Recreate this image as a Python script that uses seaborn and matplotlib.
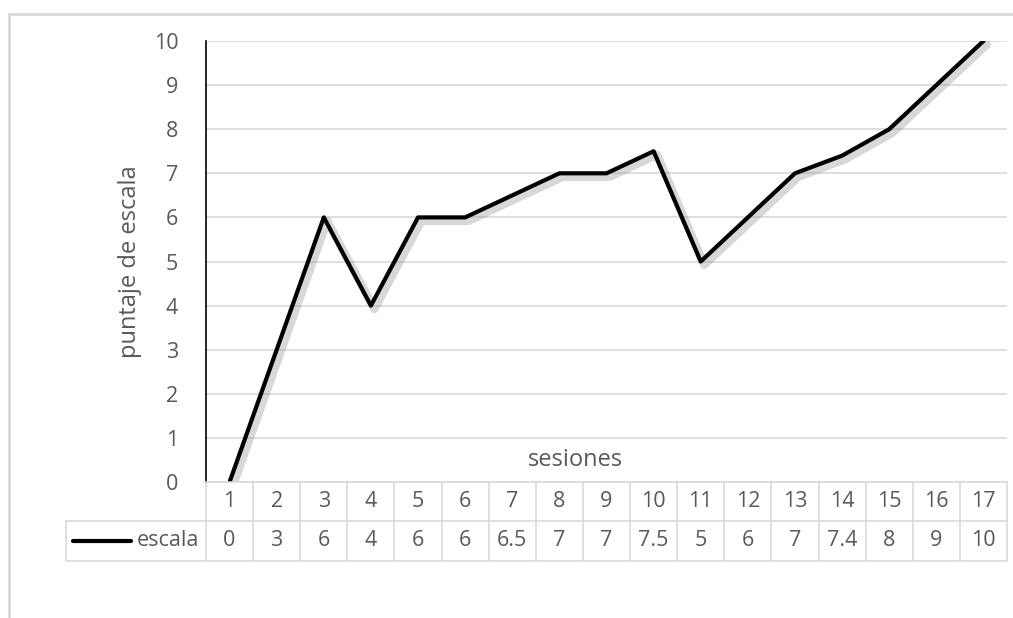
import matplotlib
matplotlib.use("Agg")
import matplotlib.pyplot as plt
import matplotlib.patheffects as pe
from matplotlib.transforms import blended_transform_factory
from matplotlib.lines import Line2D
import seaborn as sns
import pandas as pd

sesiones = list(range(1, 18))
escala = [0, 3, 6, 4, 6, 6, 6.5, 7, 7, 7.5, 5, 6, 7, 7.4, 8, 9, 10]
value_labels = ["0", "3", "6", "4", "6", "6", "6.5", "7", "7", "7.5",
                "5", "6", "7", "7.4", "8", "9", "10"]

sns.set_theme(style="white")
plt.rcParams["font.family"] = ["Open Sans", "DejaVu Sans"]

TXT = "#595959"
GRID = "#d9d9d9"
FS = 15.5

W, H = 1013, 618
fig = plt.figure(figsize=(W / 100, H / 100), dpi=100)
fig.patch.set_facecolor("white")

# plot area in pixels
L, R, T, B = 206, 1007, 41, 482
ax = fig.add_axes([L / W, 1 - B / H, (R - L) / W, (B - T) / H])

df = pd.DataFrame({"pos": range(len(sesiones)), "escala": escala})
sns.lineplot(data=df, x="pos", y="escala", ax=ax, color="black", linewidth=3,
             path_effects=[pe.SimpleLineShadow(offset=(2.5, -2.5), shadow_color="gray",
                                               alpha=0.3, linewidth=6),
                           pe.Normal()])

n = len(sesiones)
ax.set_xlim(-0.5, n - 0.5)
ax.set_ylim(0, 10)
ax.set_yticks(range(0, 11))
ax.set_xticks([])
ax.set_xlabel("")
ax.set_ylabel("puntaje de escala", fontsize=17, color=TXT, labelpad=8)
ax.tick_params(axis="y", labelsize=FS, labelcolor=TXT, length=0, pad=20)
ax.yaxis.grid(True, color=GRID, linewidth=1.2)
for s in ["top", "right"]:
    ax.spines[s].set_visible(False)
ax.spines["left"].set_color("black")
ax.spines["left"].set_linewidth(1.2)
ax.spines["bottom"].set_color(GRID)
ax.spines["bottom"].set_linewidth(1.2)

cell_px = (R - L) / n
ax.text((575 - L) / cell_px - 0.5, 0.5, "sesiones", ha="center", va="center",
        fontsize=17, color=TXT)

# data table below the plot area
trans = blended_transform_factory(ax.transData, ax.transAxes)
hpx = B - T
def yax(py):
    return (B - py) / hpx

row1_bot, row2_bot = 521, 561
left_data = -0.5 - (L - 66) / cell_px
kw = dict(transform=trans, clip_on=False, color=GRID, linewidth=1.2)

ax.add_line(Line2D([left_data, n - 0.5], [yax(row1_bot)] * 2, **kw))
ax.add_line(Line2D([left_data, n - 0.5], [yax(row2_bot)] * 2, **kw))
ax.add_line(Line2D([left_data, left_data], [yax(row1_bot), yax(row2_bot)], **kw))
for i in range(n + 1):
    xb = i - 0.5
    ax.add_line(Line2D([xb, xb], [yax(B), yax(row2_bot)], **kw))

for i, (s, v) in enumerate(zip(sesiones, value_labels)):
    ax.text(i, yax((B + row1_bot) / 2), str(s), transform=trans, ha="center",
            va="center", fontsize=FS, color=TXT, clip_on=False)
    ax.text(i, yax((row1_bot + row2_bot) / 2), v, transform=trans, ha="center",
            va="center", fontsize=FS, color=TXT, clip_on=False)

# legend key inside the table
ymid = yax((row1_bot + row2_bot) / 2)
ax.add_line(Line2D([-0.5 - (L - 73) / cell_px, -0.5 - (L - 131) / cell_px], [ymid, ymid],
                   transform=trans, clip_on=False, color="black", linewidth=3))
ax.text(-0.5 - (L - 199) / cell_px, ymid, "escala", transform=trans, ha="right",
        va="center", fontsize=FS, color=TXT, clip_on=False)

# chart area frame
fig.add_artist(Line2D([9 / W, 1], [1 - 14 / H] * 2, transform=fig.transFigure,
                      color=GRID, linewidth=2))
fig.add_artist(Line2D([9 / W, 9 / W], [0, 1 - 14 / H], transform=fig.transFigure,
                      color=GRID, linewidth=2))

fig.savefig("out.png", dpi=100, facecolor="white")
